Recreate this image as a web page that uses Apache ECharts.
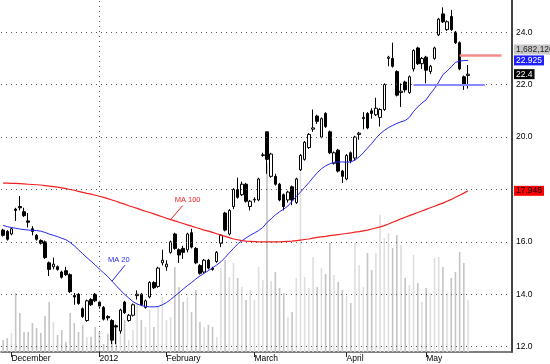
<!DOCTYPE html>
<html><head><meta charset="utf-8">
<script src="https://cdn.jsdelivr.net/npm/echarts@6/dist/echarts.min.js"></script>
<style>html,body{margin:0;padding:0;background:#fff}#c{width:550px;height:364px}</style>
</head><body><div id="c"></div>
<script>
// ---- data ----
const monthTicks = {2:'December', 23:'2012', 39:'February', 60:'March', 82:'April', 101:'May'};
const priceTicks = [12,14,16,18,20,22,24];
const open = [16.45,16.40,16.30,17.25,17.35,17.15,16.80,16.50,16.25,16.05,16.00,15.20,15.05,15.05,14.85,14.90,14.75,13.95,14.00,13.45,13.00,13.80,14.00,13.70,13.50,13.15,13.00,12.80,12.60,13.70,13.00,13.20,13.95,14.00,13.50,13.90,14.45,14.30,15.20,15.05,15.60,16.30,15.70,15.75,15.70,16.35,15.75,15.10,14.85,15.30,15.00,15.25,15.95,17.10,16.30,17.35,18.00,17.80,18.20,17.35,17.60,17.60,19.30,20.20,18.50,18.50,18.20,17.80,17.60,18.10,17.50,18.75,19.15,19.60,20.30,20.80,20.00,20.90,20.20,19.00,19.50,18.70,18.40,19.40,19.20,20.10,20.70,20.90,21.00,20.85,20.75,21.05,23.00,23.00,22.50,21.70,22.10,21.70,22.60,23.40,22.80,23.05,22.50,23.00,23.90,24.70,24.10,24.60,24.00,23.60,22.30,22.35];
const close = [16.25,16.10,16.50,17.20,17.30,17.00,16.75,16.40,16.10,15.95,15.40,14.95,15.15,14.95,14.65,14.75,14.10,13.90,13.65,13.15,13.75,13.60,13.75,13.55,13.05,13.10,12.25,12.75,13.40,13.30,13.20,13.60,14.00,13.60,13.75,14.45,14.25,15.00,15.30,15.15,16.00,15.75,15.50,15.60,16.30,15.80,15.20,14.80,15.30,15.00,14.95,15.60,16.25,16.45,17.20,18.00,17.70,18.20,17.55,17.55,17.62,18.40,19.32,19.15,19.35,18.20,17.60,17.35,17.90,17.60,18.40,19.30,19.80,20.10,20.35,20.60,20.70,20.40,19.40,19.40,18.70,18.50,19.30,19.10,20.00,20.15,20.75,20.35,20.90,21.10,21.05,22.00,23.05,22.70,21.60,21.75,21.80,22.30,23.30,22.80,23.00,22.55,22.70,23.40,24.50,24.40,24.40,24.10,23.60,22.60,22.00,22.40];
const low = [16.20,16.05,16.25,16.80,17.20,16.95,16.55,16.25,16.05,15.90,15.35,14.70,14.95,14.90,14.60,14.70,14.05,13.60,13.60,13.10,12.95,13.55,13.70,13.45,13.00,13.00,12.10,12.10,12.50,13.25,12.95,13.15,13.80,13.55,13.45,13.85,14.20,14.25,15.10,14.90,15.55,15.70,15.20,15.35,15.60,15.75,15.15,14.75,14.80,14.95,14.90,15.20,15.80,16.40,16.25,17.25,17.65,17.75,17.50,17.20,17.50,17.55,19.25,18.60,18.45,18.15,17.55,17.20,17.50,17.40,17.45,18.70,19.10,19.55,20.20,20.50,19.95,20.35,19.35,18.95,18.65,18.25,18.35,19.00,19.10,19.90,20.30,20.30,20.70,20.80,20.40,21.00,22.70,22.65,21.55,21.15,21.70,21.65,22.50,22.75,22.60,22.05,22.40,22.95,23.85,24.35,24.05,24.05,23.55,22.55,21.80,21.85];
const high = [16.50,16.45,16.55,17.30,17.75,17.30,17.10,16.60,16.30,16.10,16.05,15.25,15.40,15.10,14.90,15.05,14.80,14.05,14.05,13.50,13.80,13.85,14.05,13.75,13.55,13.20,13.05,12.85,13.45,13.75,13.25,13.65,14.15,14.05,13.80,14.50,14.50,15.05,15.70,15.30,16.05,16.35,15.75,15.85,16.35,16.50,15.80,15.15,15.35,15.35,15.05,15.65,16.30,17.15,17.25,18.05,18.45,18.30,18.25,17.60,17.70,18.45,19.40,20.20,19.40,18.60,18.25,17.85,17.95,18.15,18.45,19.35,19.85,20.15,21.05,20.85,20.75,20.95,20.25,19.45,19.55,18.75,19.35,19.45,20.05,20.20,20.95,20.95,21.10,21.50,21.10,22.05,23.10,23.60,22.55,22.05,22.15,22.35,23.35,23.45,23.05,23.10,22.75,23.45,24.55,24.95,24.45,24.85,24.05,23.65,22.35,22.75];
// volume in thousands of shares
const volume = [388,452,614,1906,1260,646,646,937,775,614,1163,1615,969,549,711,323,1260,937,646,872,485,485,808,646,258,581,614,808,646,1034,388,711,1583,1034,808,1357,808,1454,1777,1034,1131,2746,2100,1615,1777,1292,2003,969,808,872,808,485,2713,2972,2423,2875,2390,2100,1680,2003,1680,2746,2326,6105,2293,2584,2067,1906,1131,1292,2390,5814,2423,2067,3069,2100,2713,2519,3521,2487,2261,2003,1809,1583,3521,2810,2100,3198,2649,3198,4425,3682,3844,3359,3779,3456,2390,2164,3133,2229,1615,2067,1906,3036,3069,2746,1906,2390,2584,3230,2875,1682.126];
const ma20 = [16.63,16.58,16.55,16.52,16.49,16.47,16.45,16.44,16.43,16.41,16.36,16.30,16.25,16.20,16.14,16.08,15.98,15.85,15.70,15.55,15.40,15.26,15.12,14.96,14.82,14.67,14.50,14.33,14.16,14.00,13.86,13.72,13.63,13.57,13.54,13.52,13.52,13.53,13.60,13.68,13.80,13.93,14.06,14.20,14.33,14.45,14.58,14.70,14.80,14.90,15.01,15.12,15.24,15.40,15.58,15.75,15.92,16.04,16.15,16.25,16.34,16.43,16.55,16.74,16.88,17.03,17.15,17.25,17.37,17.55,17.73,17.90,18.08,18.26,18.45,18.64,18.79,18.90,18.98,19.03,19.05,19.05,19.04,19.05,19.12,19.24,19.40,19.58,19.75,19.95,20.12,20.25,20.36,20.44,20.52,20.58,20.63,20.75,20.98,21.15,21.30,21.42,21.65,21.85,22.10,22.38,22.52,22.68,22.85,22.90,22.92,22.925];
const ma100 = [18.24,18.24,18.23,18.23,18.22,18.21,18.20,18.19,18.18,18.17,18.15,18.13,18.11,18.09,18.06,18.03,18.00,17.97,17.93,17.89,17.85,17.82,17.78,17.74,17.70,17.65,17.60,17.55,17.49,17.44,17.38,17.33,17.28,17.22,17.17,17.12,17.07,17.01,16.96,16.90,16.85,16.80,16.75,16.70,16.65,16.60,16.55,16.50,16.45,16.41,16.36,16.31,16.26,16.21,16.16,16.11,16.08,16.05,16.03,16.02,16.01,16.00,16.00,16.00,16.00,16.00,16.00,16.01,16.02,16.03,16.05,16.07,16.09,16.11,16.14,16.17,16.19,16.21,16.24,16.26,16.28,16.30,16.32,16.34,16.37,16.39,16.42,16.45,16.49,16.53,16.57,16.62,16.68,16.75,16.81,16.88,16.94,17.00,17.06,17.12,17.18,17.24,17.30,17.36,17.42,17.48,17.55,17.62,17.70,17.78,17.86,17.948];
const supportLevel = 22.0;   // light blue horizontal line
const resistLevel = 23.11;   // light red horizontal line

// ---- chart ----
const SLOTS = 122; // trading-day slots incl. empty space on the right
const cats = Array.from({length: SLOTS}, (_, i) => String(i));
const FONT = 'Arial, "Liberation Sans", sans-serif';
const candles = open.map((o, i) => [o, close[i], low[i], high[i]]);
const volData = volume.map((v, i) => ({
  value: v,
  itemStyle: {color: close[i] >= open[i] ? '#dedede' : '#c4c4c4'}
}));
const isMonth = (i) => Object.prototype.hasOwnProperty.call(monthTicks, i);
const dotted = {color: '#555', width: 1, type: [1, 4]};

const chart = echarts.init(document.getElementById('c'), null, {renderer: 'canvas'});
chart.setOption({
  animation: false,
  backgroundColor: '#fff',
  grid: [
    {left: 1, right: 38, top: 0, bottom: 17.3},
    {left: 1, right: 38, top: 0, bottom: 12}
  ],
  xAxis: [
    {type: 'category', gridIndex: 0, data: cats, boundaryGap: true, show: false},
    {type: 'category', gridIndex: 1, data: cats, boundaryGap: true,
      axisLine: {show: true, lineStyle: {color: '#555', width: 1.5}},
      axisTick: {show: true, interval: (i) => isMonth(i), alignWithLabel: true, length: 5, lineStyle: {color: '#222'}},
      axisLabel: {interval: (i) => isMonth(i), formatter: (v, i) => monthTicks[i] || '', align: 'left',
        margin: 2, fontSize: 8.5, color: '#000', fontFamily: FONT},
      splitLine: {show: false}}
  ],
  yAxis: [
    {type: 'value', gridIndex: 0, position: 'right', min: 12, max: 25.23, interval: 2,
      axisLine: {show: false}, axisTick: {show: false}, splitLine: {show: false},
      axisLabel: {margin: 4, fontSize: 8.5, color: '#000', fontFamily: FONT,
        formatter: (v) => priceTicks.indexOf(Math.round(v * 1000) / 1000) >= 0 ? v.toFixed(1) : ''}},
    {type: 'value', gridIndex: 1, position: 'right', min: 0, max: 11370,
      axisLine: {show: true, lineStyle: {color: '#444', width: 2}}, axisTick: {show: false},
      axisLabel: {show: false}, splitLine: {show: false}}
  ],
  series: [
    {name: 'grid', type: 'line', xAxisIndex: 0, yAxisIndex: 0, data: close, symbol: 'none', silent: true, z: 0,
      lineStyle: {opacity: 0},
      markLine: {silent: true, symbol: 'none', label: {show: false}, lineStyle: dotted, animation: false,
        data: priceTicks.map(v => ({yAxis: v}))}},
    {name: 'Volume', type: 'bar', xAxisIndex: 1, yAxisIndex: 1, data: volData, barWidth: 1.6, z: 1, silent: true,
      markLine: {silent: true, symbol: 'none', label: {show: false}, lineStyle: dotted, animation: false,
        data: [{xAxis: cats[23]}]}},
    {name: 'Price', type: 'candlestick', xAxisIndex: 0, yAxisIndex: 0, data: candles, barWidth: 3, z: 3,
      itemStyle: {color: '#fff', color0: '#000', borderColor: '#000', borderColor0: '#000', borderWidth: 1},
      markLine: {silent: true, symbol: 'none', label: {show: false}, animation: false,
        data: [
          [{coord: [98, supportLevel]}, {coord: [115, supportLevel]}],
          [{coord: [109, resistLevel], lineStyle: {color: '#f48c8c', width: 2.5}}, {coord: [119, resistLevel]}]
        ],
        lineStyle: {color: '#8a8aff', width: 2, type: 'solid'}}},
    {name: 'MA 20', type: 'line', xAxisIndex: 0, yAxisIndex: 0, data: ma20, symbol: 'none', z: 4,
      lineStyle: {color: '#2626f0', width: 1}},
    {name: 'MA 100', type: 'line', xAxisIndex: 0, yAxisIndex: 0, data: ma100, symbol: 'none', z: 4,
      lineStyle: {color: '#f02020', width: 1.2}}
  ]
});

// ---- annotations anchored to data ----
const px = (i, v) => chart.convertToPixel({gridIndex: 0}, [i, v]);
const last = close.length - 1;
const axisX = 513;
const a20 = px(26, ma20[26]);
const a100 = px(40, ma100[40]);
const pMa20 = px(last, ma20[last]);
const pClose = px(last, close[last]);
const pMa100 = px(last, ma100[last]);
const pRes = px(last, resistLevel);
const box = (txt, y, bg, fg) => ({
  type: 'text', x: axisX + 1, y: y, z: 10,
  style: {text: txt, fill: fg, backgroundColor: bg, padding: [1, 2, 0, 2], font: '8.5px ' + FONT, verticalAlign: 'middle'}
});
chart.setOption({
  graphic: [
    {type: 'line', shape: {x1: a20[0], y1: a20[1], x2: a20[0] + 13, y2: a20[1] - 16}, style: {stroke: '#2626f0', lineWidth: 1}, z: 10},
    {type: 'text', x: a20[0] - 4, y: a20[1] - 21, z: 10, style: {text: 'MA 20', fill: '#2626f0', font: '7.5px ' + FONT, verticalAlign: 'middle'}},
    {type: 'line', shape: {x1: a100[0], y1: a100[1], x2: a100[0] + 12, y2: a100[1] - 14}, style: {stroke: '#f02020', lineWidth: 1}, z: 10},
    {type: 'text', x: a100[0] + 4, y: a100[1] - 19.5, z: 10, style: {text: 'MA 100', fill: '#f02020', font: '7.5px ' + FONT, verticalAlign: 'middle'}},
    box(Math.round(volume[last] * 1000).toLocaleString('en-US'), pRes[1] - 6, '#c8c8c8', '#222'),
    box(ma20[last].toFixed(3), pMa20[1], '#1e1eff', '#fff'),
    box(String(close[last]), pClose[1], '#000', '#fff'),
    box(ma100[last].toFixed(3), pMa100[1], '#ff0000', '#000')
  ]
});
</script></body></html>
